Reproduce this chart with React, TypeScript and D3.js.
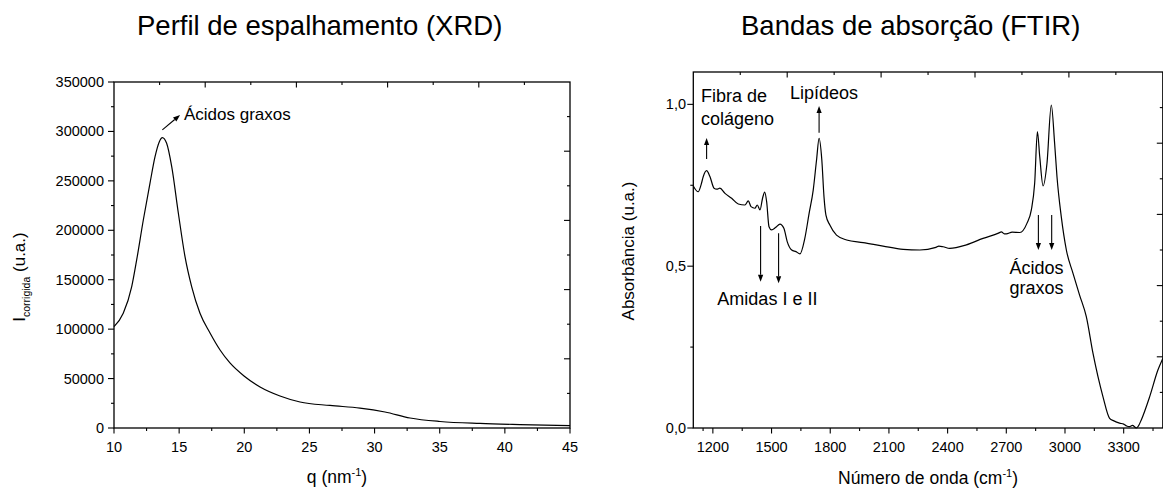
import React from "react";
import * as d3 from "d3";

// XRD scattering profile: q (nm^-1) vs corrected intensity
const xrdQ = [10, 10.71, 11.36, 11.74, 12.25, 12.76, 13.15, 13.48, 13.71, 14.04, 14.43, 14.94, 15.45, 15.96, 16.6, 17.37, 18.14, 18.9, 19.98, 21.21, 22.74, 24.28, 26.58, 28.88, 30.8, 32.72, 35.02, 38.09, 41.16, 45];
const xrdI = [102500, 116000, 143000, 170000, 210400, 247500, 274500, 289600, 293700, 288000, 264300, 217200, 173300, 143000, 116000, 96100, 78900, 65800, 52600, 41500, 32400, 26300, 22800, 20200, 16200, 10100, 6600, 4600, 3500, 2500];

// FTIR spectrum: wavenumber (cm^-1) vs absorbance
const ftirWn = [1100, 1125, 1140, 1151, 1168, 1185, 1206, 1220, 1236, 1262, 1296, 1330, 1364, 1381, 1395, 1415, 1427, 1441, 1454, 1465, 1475, 1487, 1500, 1522, 1543, 1563, 1580, 1603, 1625, 1645, 1670, 1692, 1713, 1730, 1743, 1757, 1768, 1778, 1798, 1832, 1884, 1968, 2070, 2173, 2258, 2340, 2355, 2377, 2411, 2496, 2581, 2660, 2675, 2690, 2700, 2730, 2769, 2806, 2828, 2845, 2859, 2871, 2888, 2908, 2930, 2947, 2959, 2981, 3007, 3041, 3075, 3109, 3143, 3194, 3228, 3250, 3279, 3300, 3315, 3330, 3345, 3365, 3375, 3390, 3433, 3475, 3500];
const ftirA = [0.748, 0.73, 0.752, 0.777, 0.795, 0.777, 0.741, 0.738, 0.741, 0.725, 0.71, 0.692, 0.689, 0.702, 0.684, 0.679, 0.689, 0.674, 0.71, 0.729, 0.699, 0.622, 0.612, 0.62, 0.63, 0.617, 0.576, 0.55, 0.545, 0.538, 0.586, 0.663, 0.735, 0.828, 0.895, 0.828, 0.715, 0.658, 0.627, 0.596, 0.581, 0.573, 0.562, 0.552, 0.55, 0.558, 0.562, 0.56, 0.555, 0.566, 0.586, 0.602, 0.606, 0.6, 0.6, 0.605, 0.604, 0.633, 0.674, 0.756, 0.916, 0.838, 0.748, 0.818, 0.998, 0.88, 0.777, 0.653, 0.55, 0.478, 0.41, 0.344, 0.231, 0.097, 0.03, 0.022, 0.015, 0.012, 0.006, 0.004, 0.008, 0, 0.006, 0.025, 0.097, 0.179, 0.215];

const xrdXTicks = [10, 15, 20, 25, 30, 35, 40, 45];
const xrdYTicks = [0, 50000, 100000, 150000, 200000, 250000, 300000, 350000];
const ftirXTicks = [1200, 1500, 1800, 2100, 2400, 2700, 3000, 3300];
const ftirYTicks = [0, 0.5, 1.0];
const ftirYLabels = ["0,0", "0,5", "1,0"];

const FONT = "'Liberation Sans', Arial, Helvetica, sans-serif";

function Arrow({ x1, y1, x2, y2 }: { x1: number; y1: number; x2: number; y2: number }) {
  const ang = Math.atan2(y2 - y1, x2 - x1);
  const len = 7;
  const half = 2.6;
  const bx = x2 - len * Math.cos(ang);
  const by = y2 - len * Math.sin(ang);
  const px = -Math.sin(ang) * half;
  const py = Math.cos(ang) * half;
  return (
    <g>
      <line x1={x1} y1={y1} x2={bx} y2={by} stroke="#000" strokeWidth={1.1} />
      <polygon points={`${x2},${y2} ${bx + px},${by + py} ${bx - px},${by - py}`} fill="#000" />
    </g>
  );
}

// Box around a panel, with the inward ticks of the opposite (top/right) axes
function Frame({ x, y, opp }: { x: any; y: any; opp: { top: number[]; right: number[] } }) {
  const [x0, x1] = x.range();
  const [y0, y1] = y.range();
  return (
    <g>
      <rect x={x0} y={y1} width={x1 - x0} height={y0 - y1} fill="none" stroke="#000" strokeWidth={1.3} />
      {opp.top.map((v, i) => (
        <line key={"t" + i} x1={x(v)} x2={x(v)} y1={y1} y2={y1 + (i % 2 === 0 ? 3 : 5.5)} stroke="#000" strokeWidth={1.1} />
      ))}
      {opp.right.map((v, i) => (
        <line key={"r" + i} y1={y(v)} y2={y(v)} x1={x1} x2={x1 - (i % 2 === 0 ? 3 : 6)} stroke="#000" strokeWidth={1.1} />
      ))}
    </g>
  );
}

function tenths(d: number[]) {
  return d3.range(1, 10).map((i) => d[0] + (i * (d[1] - d[0])) / 10);
}

export default function App() {
  // XRD panel
  const xX = d3.scaleLinear().domain([10, 45]).range([114, 570]);
  const xY = d3.scaleLinear().domain([0, 350000]).range([428, 82]);
  const xrdLine = d3
    .line<number>()
    .x((_, i) => xX(xrdQ[i]))
    .y((d) => xY(d))
    .curve(d3.curveMonotoneX)(xrdI) as string;

  // FTIR panel
  const fX = d3.scaleLinear().domain([1100, 3500]).range([693.3, 1162.8]);
  const fY = d3.scaleLinear().domain([0, 1.1]).range([428, 72]);
  const ftirLine = d3
    .line<number>()
    .x((_, i) => fX(ftirWn[i]))
    .y((d) => fY(d))
    .curve(d3.curveMonotoneX)(ftirA) as string;

  const xrdMinorX = d3.range(12.5, 45, 5);
  const xrdMinorY = d3.range(25000, 350000, 50000);
  const ftirMinorX = d3.range(1350, 3500, 300);
  const ftirMinorX2 = [1150];
  const ftirMinorY = [0.25, 0.75];

  const tick = { stroke: "#000", strokeWidth: 1.1 };
  const tickText = { fontFamily: FONT, fontSize: 14.5, fill: "#000" } as const;
  const annText = { fontFamily: FONT, fontSize: 18, fill: "#000" } as const;

  return (
    <svg width={1163} height={489} style={{ position: "absolute", left: 0, top: 0, background: "#fff" }}>
      {/* ---------- XRD ---------- */}
      <text x={137} y={35} fontFamily={FONT} fontSize={27.5} fill="#000">Perfil de espalhamento (XRD)</text>
      <Frame x={xX} y={xY} opp={{ top: tenths(xX.domain()), right: tenths(xY.domain()) }} />
      {xrdXTicks.map((v) => (
        <g key={v}>
          <line x1={xX(v)} x2={xX(v)} y1={428} y2={433.5} {...tick} />
          <text x={xX(v)} y={451.5} textAnchor="middle" {...tickText}>{v}</text>
        </g>
      ))}
      {xrdMinorX.map((v) => (
        <line key={v} x1={xX(v)} x2={xX(v)} y1={428} y2={431} {...tick} />
      ))}
      {xrdYTicks.map((v) => (
        <g key={v}>
          <line x1={114} x2={108} y1={xY(v)} y2={xY(v)} {...tick} />
          <text x={104} y={xY(v) + 5} textAnchor="end" {...tickText}>{v}</text>
        </g>
      ))}
      {xrdMinorY.map((v) => (
        <line key={v} x1={114} x2={111} y1={xY(v)} y2={xY(v)} {...tick} />
      ))}
      <path d={xrdLine} fill="none" stroke="#000" strokeWidth={1.2} />
      <Arrow x1={xX(13.71)} y1={xY(301500)} x2={xX(15.07)} y2={xY(316600)} />
      <text x={xX(15.37)} y={xY(312000)} {...annText} fontSize={17}>Ácidos graxos</text>
      <text x={337} y={483} textAnchor="middle" fontFamily={FONT} fontSize={17.5} fill="#000">
        q (nm<tspan fontSize={11} dy={-7}>-1</tspan><tspan dy={7}>)</tspan>
      </text>
      <text transform="translate(25,277) rotate(-90)" textAnchor="middle" fontFamily={FONT} fontSize={17} fill="#000">
        I<tspan fontSize={10.5} dy={5}>corrigida</tspan><tspan dy={-5}> (u.a.)</tspan>
      </text>

      {/* ---------- FTIR ---------- */}
      <text x={741} y={35} fontFamily={FONT} fontSize={27.5} fill="#000">Bandas de absorção (FTIR)</text>
      <Frame x={fX} y={fY} opp={{ top: tenths(fX.domain()), right: tenths(fY.domain()) }} />
      {ftirXTicks.map((v) => (
        <g key={v}>
          <line x1={fX(v)} x2={fX(v)} y1={428} y2={433.5} {...tick} />
          <text x={fX(v)} y={452} textAnchor="middle" {...tickText}>{v}</text>
        </g>
      ))}
      {ftirMinorX.concat(ftirMinorX2).map((v) => (
        <line key={v} x1={fX(v)} x2={fX(v)} y1={428} y2={431} {...tick} />
      ))}
      {ftirYTicks.map((v, i) => (
        <g key={v}>
          <line x1={693.3} x2={687.3} y1={fY(v)} y2={fY(v)} {...tick} />
          <text x={686} y={fY(v) + 5} textAnchor="end" {...tickText}>{ftirYLabels[i]}</text>
        </g>
      ))}
      {ftirMinorY.map((v) => (
        <line key={v} x1={693.3} x2={690.3} y1={fY(v)} y2={fY(v)} {...tick} />
      ))}
      <path d={ftirLine} fill="none" stroke="#000" strokeWidth={1.2} />

      {/* band annotations */}
      <text x={fX(1139)} y={fY(1.008)} {...annText}>Fibra de</text>
      <text x={fX(1139)} y={fY(0.936)} {...annText}>colágeno</text>
      <Arrow x1={fX(1168)} y1={fY(0.831)} x2={fX(1168)} y2={fY(0.896)} />

      <text x={fX(1594)} y={fY(1.017)} {...annText}>Lipídeos</text>
      <Arrow x1={fX(1743)} y1={fY(0.912)} x2={fX(1743)} y2={fY(0.995)} />

      <Arrow x1={fX(1444)} y1={fY(0.624)} x2={fX(1444)} y2={fY(0.452)} />
      <Arrow x1={fX(1536)} y1={fY(0.602)} x2={fX(1536)} y2={fY(0.447)} />
      <text x={fX(1223)} y={fY(0.38)} {...annText}>Amidas I e II</text>

      <Arrow x1={fX(2864)} y1={fY(0.658)} x2={fX(2864)} y2={fY(0.55)} />
      <Arrow x1={fX(2932)} y1={fY(0.658)} x2={fX(2932)} y2={fY(0.55)} />
      <text x={fX(2854)} y={fY(0.476)} textAnchor="middle" {...annText}>Ácidos</text>
      <text x={fX(2854)} y={fY(0.414)} textAnchor="middle" {...annText}>graxos</text>

      <text x={928} y={484} textAnchor="middle" fontFamily={FONT} fontSize={17.5} fill="#000">
        Número de onda (cm<tspan fontSize={11} dy={-7}>-1</tspan><tspan dy={7}>)</tspan>
      </text>
      <text transform="translate(634,251) rotate(-90)" textAnchor="middle" fontFamily={FONT} fontSize={17} fill="#000">
        Absorbância (u.a.)
      </text>
    </svg>
  );
}
